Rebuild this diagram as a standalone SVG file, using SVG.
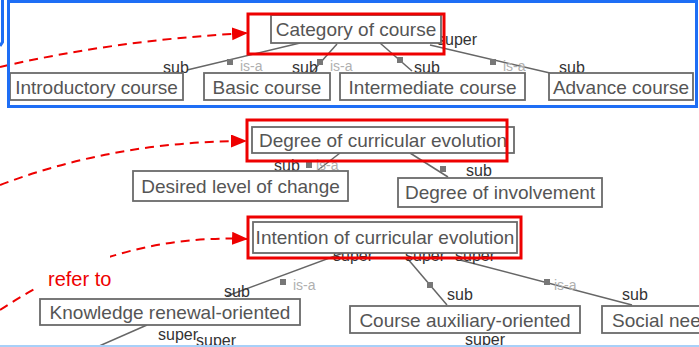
<svg xmlns="http://www.w3.org/2000/svg" width="699" height="347" viewBox="0 0 699 347">
<style>
.node rect{fill:#fff;stroke:#6a6a6a;stroke-width:1.8}
.node text{font-family:"Liberation Sans",Arial,sans-serif;font-size:19px;fill:#555;text-anchor:middle}
.hl{fill:none;stroke:#ee0000;stroke-width:3}
.edge{stroke:#666;stroke-width:1.5;fill:none}
.sq{fill:#777}
.lbl{font-family:"Liberation Sans",Arial,sans-serif;font-size:16px;fill:#333}
.isa{font-family:"Liberation Sans",Arial,sans-serif;font-size:14px;fill:#b0b0b0}
.ref{fill:none;stroke:#ee0000;stroke-width:2;stroke-dasharray:9 6}
</style>
<defs>
<marker id="arr" markerUnits="userSpaceOnUse" markerWidth="17" markerHeight="14" refX="16" refY="6.5" orient="auto">
<path d="M0,0 L16,6.5 L0,13 z" fill="#ee0000"/>
</marker>
</defs>
<rect width="699" height="347" fill="#fff"/>

<g id="connectors">
<!-- Category tree -->
<path class="edge" d="M300,43 L187,70"/>
<rect class="sq" x="227" y="59" width="6" height="6"/>
<text class="lbl" x="163" y="73">sub</text>
<text class="isa" x="240" y="71">is-a</text>
<path class="edge" d="M337,44 L312,72"/>
<rect class="sq" x="317" y="59" width="6" height="6"/>
<text class="lbl" x="292" y="73">sub</text>
<text class="isa" x="330" y="71">is-a</text>
<path class="edge" d="M380,43 L412,71"/>
<rect class="sq" x="397" y="57" width="6" height="6"/>
<text class="lbl" x="414" y="73">sub</text>
<path class="edge" d="M430,45 L550,73"/>
<rect class="sq" x="490" y="59" width="6" height="6"/>
<text class="isa" x="503" y="71">is-a</text>
<text class="lbl" x="559" y="73">sub</text>
<text class="lbl" x="437" y="45" font-size="15">super</text>
<!-- Degree tree -->
<path class="edge" d="M340,153 L318,170"/>
<rect class="sq" x="306" y="162" width="6" height="6"/>
<text class="lbl" x="274" y="171">sub</text>
<text class="isa" x="316" y="170">is-a</text>
<path class="edge" d="M410,153 L448,177"/>
<rect class="sq" x="440" y="166" width="6" height="6"/>
<text class="lbl" x="466" y="176">sub</text>
<!-- Intention tree -->
<path class="edge" d="M343,253 L227,296"/>
<rect class="sq" x="280" y="279" width="6" height="6"/>
<text class="isa" x="293" y="290">is-a</text>
<text class="lbl" x="224" y="297">sub</text>
<path class="edge" d="M407,258 L447,305"/>
<rect class="sq" x="427" y="282" width="6" height="6"/>
<text class="lbl" x="447" y="300">sub</text>
<path class="edge" d="M460,260 L632,305"/>
<rect class="sq" x="544" y="279" width="6" height="6"/>
<text class="isa" x="554" y="290">is-a</text>
<text class="lbl" x="622" y="300">sub</text>
<text class="lbl" x="333" y="261" font-size="14">super</text>
<text class="lbl" x="405" y="261" font-size="14">super</text>
<text class="lbl" x="455" y="261" font-size="14">super</text>
<!-- lower fragments -->
<path class="edge" d="M147,325 L97,347"/>
<text class="lbl" x="158" y="340" font-size="15">super</text>
<text class="lbl" x="196" y="346" font-size="13">super</text>
<text class="lbl" x="465" y="345" font-size="14">super</text>
</g>

<g id="n-category" class="node"><rect x="271" y="15" width="170" height="28"/><text x="356" y="36">Category of course</text></g>
<g id="n-introductory" class="node"><rect x="10" y="73" width="173" height="27"/><text x="96.5" y="94">Introductory course</text></g>
<g id="n-basic" class="node"><rect x="204" y="73" width="126" height="27"/><text x="267" y="94">Basic course</text></g>
<g id="n-intermediate" class="node"><rect x="340" y="73" width="185" height="27"/><text x="432.5" y="94">Intermediate course</text></g>
<g id="n-advance" class="node"><rect x="549" y="73" width="144" height="27"/><text x="621" y="94">Advance course</text></g>

<g id="n-degree" class="node"><rect x="252" y="127" width="262" height="26"/><text x="383" y="147">Degree of curricular evolution</text></g>
<g id="n-desired" class="node"><rect x="133" y="171" width="215" height="30"/><text x="240.5" y="193">Desired level of change</text></g>
<g id="n-involvement" class="node"><rect x="398" y="178" width="204" height="29"/><text x="500" y="199">Degree of involvement</text></g>

<g id="n-intention" class="node"><rect x="253" y="222" width="264" height="31"/><text x="385" y="244">Intention of curricular evolution</text></g>
<g id="n-knowledge" class="node"><rect x="40" y="299" width="260" height="26"/><text x="170" y="319">Knowledge renewal-oriented</text></g>
<g id="n-auxiliary" class="node"><rect x="350" y="306" width="230" height="27"/><text x="465" y="327">Course auxiliary-oriented</text></g>
<g id="n-social" class="node"><rect x="602" y="306" width="110" height="27"/><text x="612" y="327" style="text-anchor:start">Social nee</text></g>

<g id="highlights">
<rect class="hl" x="248" y="14" width="196" height="40"/>
<rect class="hl" x="247" y="120" width="260" height="41"/>
<rect class="hl" x="248" y="217" width="273" height="41"/>
</g>

<g id="references">
<path class="ref" d="M0,67 Q116,40 248,33" marker-end="url(#arr)"/>
<path class="ref" d="M0,185 Q116,141 247,141" marker-end="url(#arr)"/>
<path class="ref" d="M0,310 Q116,233 248,239" marker-end="url(#arr)"/>
<rect x="38" y="252" width="72" height="38" fill="#fff"/>
<text x="48" y="286" font-family="Liberation Sans, Arial, sans-serif" font-size="20" fill="#ee0000">refer to</text>
</g>

<g id="frame" fill="none" stroke="#1e6ef5" stroke-width="3">
<rect x="8.5" y="1.5" width="688" height="105"/>
<path d="M2.5,0 L2.5,42 L0,46"/>
</g>
<rect x="0" y="345" width="699" height="2" fill="#a8d0f8"/>
</svg>
